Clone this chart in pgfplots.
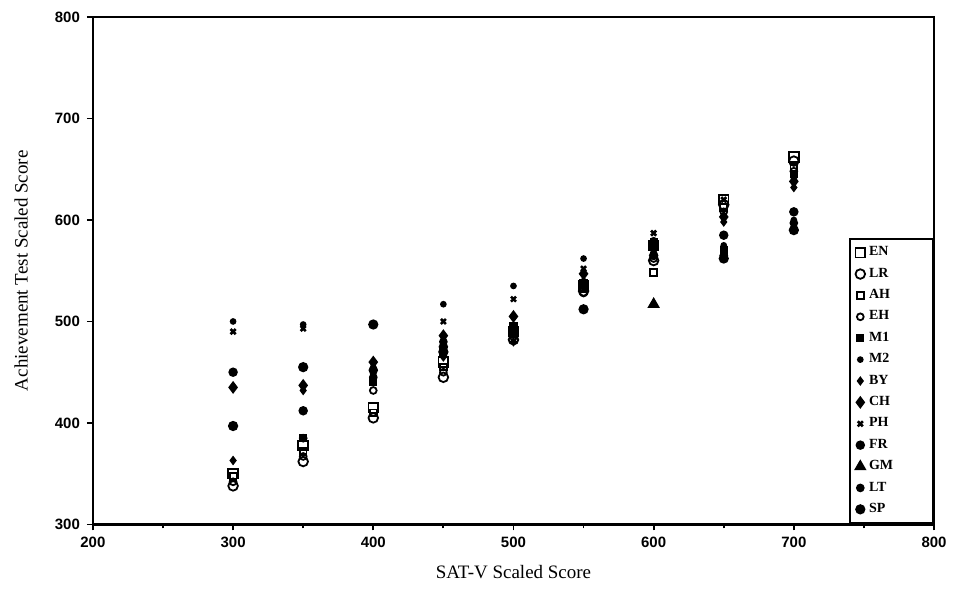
\documentclass[border=0pt]{standalone}
\usepackage{fontspec}
\setmainfont{Liberation Serif}
\newfontfamily\ticksf{Liberation Sans}
\usepackage{pgfplots}
\pgfplotsset{compat=1.18}
\begin{document}
\begin{tikzpicture}
\useasboundingbox (-46.5pt,-34pt) rectangle (434.5pt,262.5pt);
\begin{axis}[
  scale only axis, width=421pt, height=254pt,
  xmin=200, xmax=800, ymin=300, ymax=800,
  xtick={200,300,...,800}, ytick={300,400,...,800},
  minor xtick={250,350,...,750},
  tick align=outside, xtick pos=left, ytick pos=left,
  major tick length=3pt, minor tick length=2pt,
  axis line style={line width=1.2pt}, every tick/.style={line width=0.9pt,black},
  /pgf/number format/assume math mode=true,
  ticklabel style={font=\ticksf\bfseries\fontsize{7.5}{9}\selectfont},
  xlabel={SAT-V Scaled Score}, ylabel={Achievement Test Scaled Score},
  label style={font=\fontsize{9.5}{11}\selectfont},
  xlabel style={at={(axis description cs:0.5,0)}, anchor=north, yshift=-17pt},
  ylabel style={at={(axis description cs:0,0.5)}, anchor=south, yshift=29pt},
  legend style={at={(1,0)}, anchor=south east, draw=black, line width=1pt,
    font=\bfseries\fontsize{7}{8}\selectfont, row sep=0.6pt, inner xsep=3pt, inner ysep=2pt,
    cells={anchor=west}, every odd column/.style={column sep=3pt}},
  legend cell align=left,
  every axis plot/.append style={only marks, black, line width=0.9pt},
]
\addplot[mark=square, mark size=2.4pt] coordinates {(300,350)(350,378)(400,415)(450,460)(500,490)(550,535)(600,575)(650,620)(700,662)};
\addlegendentry{\makebox[27pt][l]{EN}}
\addplot[mark=o, mark size=2.4pt] coordinates {(300,338)(350,362)(400,405)(450,445)(500,482)(550,530)(600,560)(650,615)(700,658)};
\addlegendentry{LR}
\addplot[mark=square, mark size=1.7pt] coordinates {(300,347)(350,372)(400,410)(450,455)(500,488)(550,532)(600,548)(650,612)(700,652)};
\addlegendentry{AH}
\addplot[mark=o, mark size=1.7pt] coordinates {(300,342)(350,367)(400,432)(450,450)(500,485)(550,528)(600,562)(650,608)(700,648)};
\addlegendentry{EH}
\addplot[mark=square*, mark size=1.6pt] coordinates {(350,385)(400,440)(450,470)(500,495)(550,538)(600,578)(650,570)(700,645)};
\addlegendentry{M1}
\addplot[mark=*, mark size=1.2pt] coordinates {(300,500)(350,497)(400,455)(450,517)(500,535)(550,562)(600,580)(650,575)(700,600)};
\addlegendentry{M2}
\addplot[mark=diamond*, mark size=1.7pt] coordinates {(300,363)(350,432)(400,445)(450,465)(500,480)(550,540)(600,570)(650,598)(700,632)};
\addlegendentry{BY}
\addplot[mark=diamond*, mark size=2.5pt] coordinates {(300,435)(350,437)(400,460)(450,486)(500,505)(550,547)(600,575)(650,603)(700,638)};
\addlegendentry{CH}
\addplot[mark=x, mark size=1.8pt, line width=1.3pt] coordinates {(300,490)(350,493)(400,450)(450,500)(500,522)(550,552)(600,587)(650,620)(700,643)};
\addlegendentry{PH}
\addplot[mark=*, mark size=1.9pt] coordinates {(300,450)(350,412)(400,452)(450,475)(500,490)(550,535)(600,565)(650,585)(700,608)};
\addlegendentry{FR}
\addplot[mark=triangle*, mark size=2.7pt] coordinates {(600,517)};
\addlegendentry{GM}
\addplot[mark=*, mark size=1.7pt] coordinates {(300,397)(350,385)(400,445)(450,480)(500,490)(550,512)(600,572)(650,565)(700,597)};
\addlegendentry{LT}
\addplot[mark=*, mark size=2.1pt] coordinates {(300,397)(350,455)(400,497)(450,470)(500,492)(550,512)(600,575)(650,562)(700,590)};
\addlegendentry{SP}
\end{axis}
\end{tikzpicture}
\end{document}
